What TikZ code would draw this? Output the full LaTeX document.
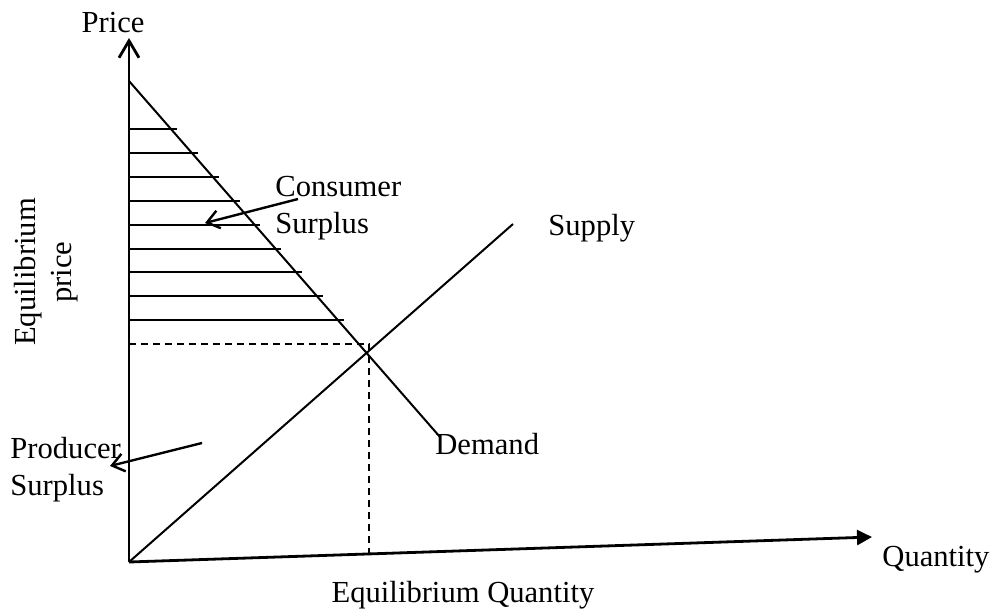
\documentclass[tikz,border=0pt]{standalone}
\usepackage{fontspec}
\setmainfont{Liberation Serif}
\usetikzlibrary{arrows.meta,positioning}

\begin{document}
\begin{tikzpicture}[x=0.5pt, y=-0.5pt,
                every node/.append style={font=\fontsize{15.3}{18.2}\selectfont, inner sep=0pt},
                axis/.style={line width=1.4pt},
                curve/.style={line width=1pt},
                hatch/.style={line width=1pt},
                guide/.style={line width=0.8pt, dash pattern=on 3.5pt off 2.5pt},
                pointer/.style={line width=1.2pt, -{Straight Barb[length=6pt,width=9pt]}},
                lbl/.style={anchor=base west, align=left}]
               \useasboundingbox (0,0) rectangle (995,611);

               % axes
               \coordinate (O) at (129,562);
               \coordinate (ptop) at (129,38);
               \coordinate (qend) at (872,537);
               \draw[axis, -{Straight Barb[length=8.5pt,width=10pt]}] (O) -- (ptop);
               \draw[axis, -{Triangle[length=7.5pt,width=7.5pt]}] (O) -- (qend);

               % demand and supply
               \coordinate (dtop) at (129,81);
               \coordinate (dend) at (440,437);
               \coordinate (send) at (513,224);
               \draw[curve] (dtop) -- (dend);
               \draw[curve] (O) -- (send);

               % equilibrium guides
               \coordinate (pe) at (129,344);
               \coordinate (eq) at (369,344);
               \coordinate (qe) at (369,554);
               \draw[guide] (pe) -- (eq) -- (qe);

               % consumer surplus hatching
               \foreach \i in {0,...,8}{
                 \pgfmathsetmacro\hy{129+23.9*\i}
                 \pgfmathsetmacro\hx{135+(\hy-81)/1.145}
                 \draw[hatch] (129,\hy) -- (\hx,\hy);
               }

               % labels (base = last line)
               \node[anchor=base] (price) at (113,32) {Price};
               \node[lbl] (qty) at (882,566) {Quantity};
               \node[anchor=base] (eqq) at (463,602) {Equilibrium Quantity};
               \node[rotate=90, align=center] (eqp) at (46,272) {Equilibrium\\price};
               \node[lbl] (supply) at (548,235) {Supply};
               \node[lbl] (demand) at (435,454) {Demand};
               \node[lbl] (cs) at (275,233) {Consumer\\Surplus};
               \node[lbl] (ps) at (10,495) {Producer\\Surplus};

               % pointers
               \coordinate (csTail) at (298,199);
               \coordinate (csArea) at (205,223);
               \coordinate (psTail) at (202,443);
               \coordinate (psAxis) at (110,466);
               \draw[pointer] (csTail) -- (csArea);
               \draw[pointer] (psTail) -- (psAxis);
        \end{tikzpicture}
\end{document}
